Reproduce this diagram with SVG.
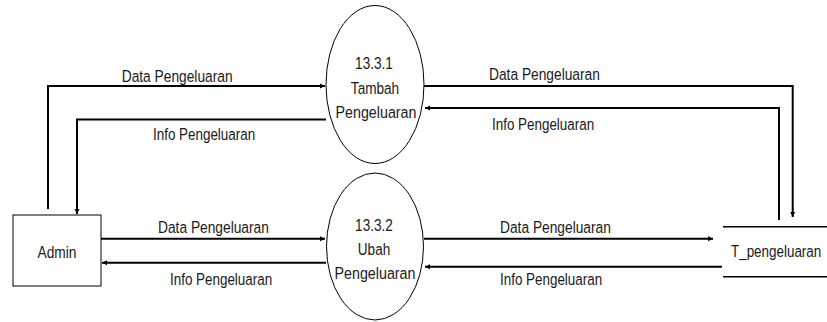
<svg xmlns="http://www.w3.org/2000/svg" width="827" height="322" viewBox="0 0 827 322">
<defs>
<marker id="ah" markerUnits="userSpaceOnUse" markerWidth="6" markerHeight="6" refX="5" refY="3" orient="auto">
<path d="M0,0.5 L5,3 L0,5.5 Z" fill="#000"/>
</marker>
<style>
text{font-family:"Liberation Sans",Arial,sans-serif;font-size:17px;fill:#1a1a1a}
.c{fill:none;stroke:#000;stroke-width:2}
.n{fill:#fff;stroke:#000;stroke-width:1}
.m{text-anchor:middle}
</style>
</defs>
<rect width="827" height="322" fill="#fff"/>
<g id="connectors">
<polyline class="c" points="48,209 48,86 325,86" marker-end="url(#ah)"/>
<polyline class="c" points="326,119.5 77,119.5 77,214" marker-end="url(#ah)"/>
<line class="c" x1="101" y1="238.7" x2="325" y2="238.7" marker-end="url(#ah)"/>
<line class="c" x1="326" y1="262.7" x2="102" y2="262.7" marker-end="url(#ah)"/>
<polyline class="c" points="424,86 792.7,86 792.7,217" marker-end="url(#ah)"/>
<polyline class="c" points="779,220 779,108 425,108" marker-end="url(#ah)"/>
<line class="c" x1="424" y1="238.7" x2="713" y2="238.7" marker-end="url(#ah)"/>
<line class="c" x1="722" y1="266.7" x2="425" y2="266.7" marker-end="url(#ah)"/>
<text transform="translate(121.7,81.7) scale(0.81,1)">Data Pengeluaran</text>
<text transform="translate(153,140) scale(0.79,1)">Info Pengeluaran</text>
<text transform="translate(158,233) scale(0.81,1)">Data Pengeluaran</text>
<text transform="translate(170,285) scale(0.79,1)">Info Pengeluaran</text>
<text transform="translate(489,80) scale(0.81,1)">Data Pengeluaran</text>
<text transform="translate(492,130) scale(0.79,1)">Info Pengeluaran</text>
<text transform="translate(500,233) scale(0.81,1)">Data Pengeluaran</text>
<text transform="translate(500,285) scale(0.79,1)">Info Pengeluaran</text>
</g>
<g id="admin">
<rect class="n" x="13" y="215" width="88" height="71" stroke-width="1.3"/>
<text class="m" transform="translate(57,258) scale(0.81,1)">Admin</text>
</g>
<g id="p1331">
<ellipse class="n" cx="375" cy="84.5" rx="49" ry="79"/>
<text class="m" transform="translate(374,69) scale(0.8,1)">13.3.1</text>
<text class="m" transform="translate(375,94) scale(0.8,1)">Tambah</text>
<text class="m" transform="translate(376,118) scale(0.84,1)">Pengeluaran</text>
</g>
<g id="p1332">
<ellipse class="n" cx="375" cy="246.5" rx="48.5" ry="73.5"/>
<text class="m" transform="translate(374,231) scale(0.8,1)">13.3.2</text>
<text class="m" transform="translate(374,255) scale(0.8,1)">Ubah</text>
<text class="m" transform="translate(375,279) scale(0.84,1)">Pengeluaran</text>
</g>
<g id="t_pengeluaran">
<line x1="723" y1="226.7" x2="827" y2="226.7" stroke="#000" stroke-width="1.5"/>
<line x1="723" y1="276.7" x2="827" y2="276.7" stroke="#000" stroke-width="1.5"/>
<text transform="translate(731,257) scale(0.79,1)">T_pengeluaran</text>
</g>
</svg>
